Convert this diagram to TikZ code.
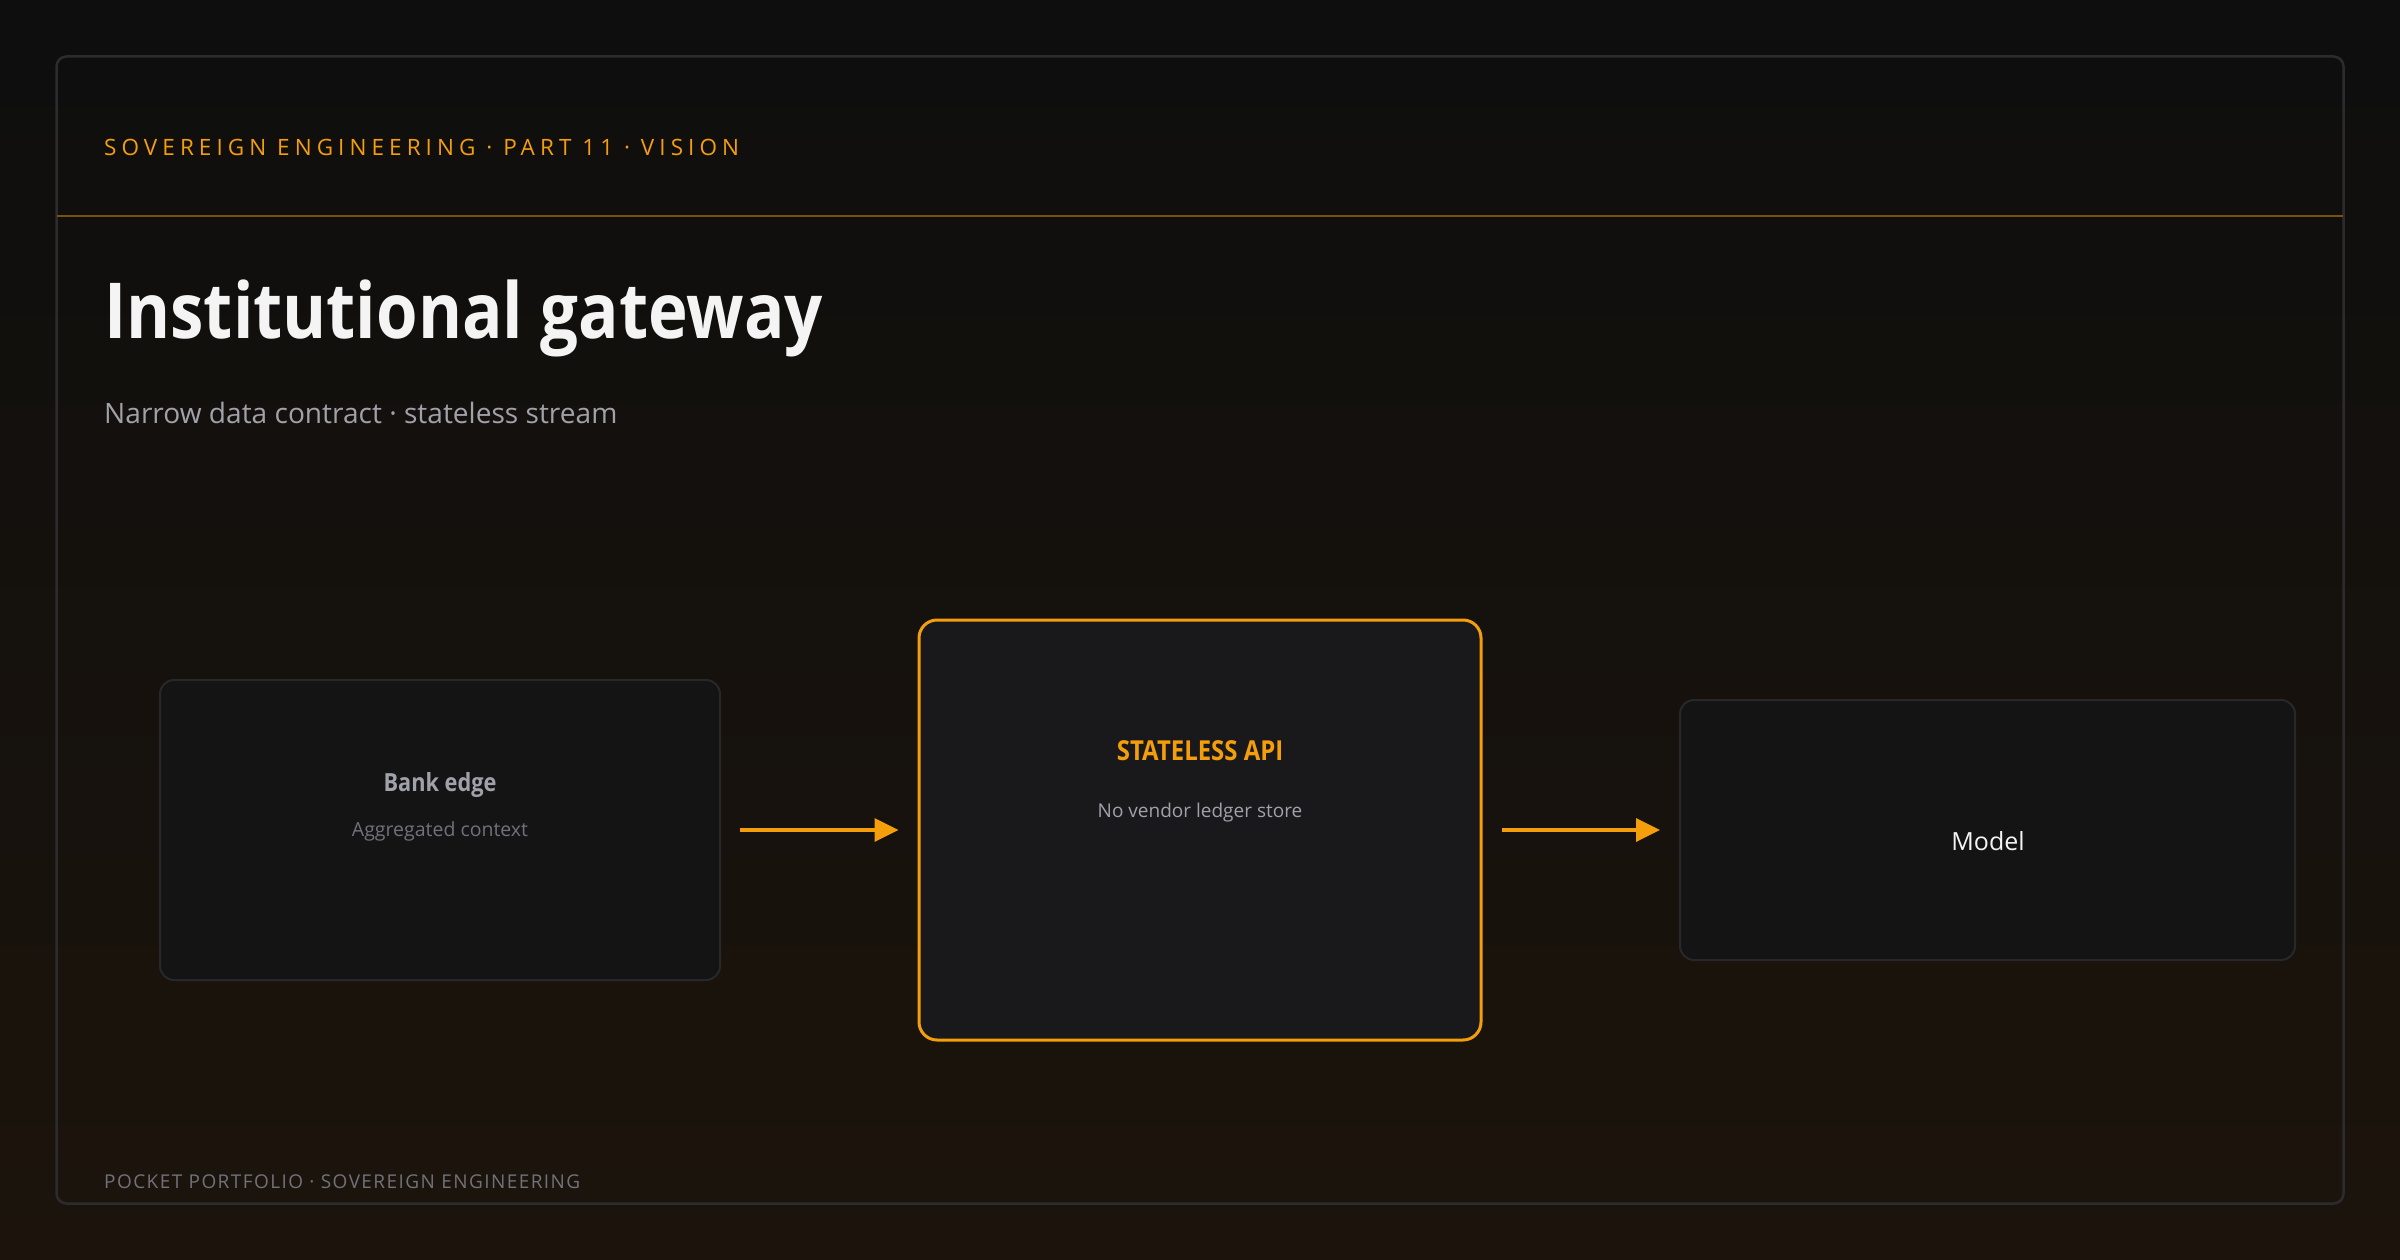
\documentclass[tikz,border=0pt]{standalone}
\usepackage{fontspec}
\setmainfont{Open Sans}[BoldFeatures={FakeStretch=0.87}]
\newfontfamily\trackfont{Open Sans}[LetterSpace=22.5]
\newfontfamily\footfont{Open Sans}[LetterSpace=7.5]
\usetikzlibrary{arrows.meta,positioning}

\definecolor{bgtop}{HTML}{0E0E0E}
\definecolor{bgbot}{HTML}{1C140C}
\definecolor{frameline}{HTML}{2C2C2E}
\definecolor{sepline}{HTML}{7A5210}
\definecolor{amber}{HTML}{F59E0B}
\definecolor{cardfill}{HTML}{141415}
\definecolor{hotfill}{HTML}{19191B}
\definecolor{cardline}{HTML}{28282A}
\definecolor{titlecol}{HTML}{F4F4F5}
\definecolor{subcol}{HTML}{A1A1AA}
\definecolor{dimcol}{HTML}{71717A}

\begin{document}
\begin{tikzpicture}[
  x=1pt,y=-1pt,
  >={Triangle[length=24pt,width=23pt]},
  every node/.style={inner sep=0pt},
  card/.style={rectangle,draw=cardline,line width=2pt,fill=cardfill,rounded corners=14pt},
  hot/.style={card,draw=amber,line width=3pt,fill=hotfill,rounded corners=18pt},
  flow/.style={->,draw=amber,line width=3.5pt,shorten <=19pt,shorten >=19pt},
]
  \useasboundingbox (0,0) rectangle (2400,1260);
  \shade[top color=bgtop,bottom color=bgbot] (0,0) rectangle (2400,1260);
  \draw[frameline,line width=2.5pt,rounded corners=10pt] (56.5,56.5) rectangle (2343.5,1203.5);
  \draw[sepline,line width=2pt] (57,216) -- (2343,216);

  \node[anchor=base west,text=amber,font=\trackfont\fontsize{22.5}{26}\selectfont] (kicker) at (104,156)
    {SOVEREIGN ENGINEERING · PART 11 · VISION};
  \node[anchor=base west,text=titlecol,font=\bfseries\fontsize{77.2}{80}\selectfont] (title) at (104,338)
    {Institutional gateway};
  \node[anchor=base west,text=subcol,font=\fontsize{28.1}{32}\selectfont] (subtitle) at (104,423)
    {Narrow data contract · stateless stream};

  \node[card,minimum width=560pt,minimum height=300pt] (bank) at (440,830) {};
  \node[hot,minimum width=562pt,minimum height=420pt] (api) at (1200,830) {};
  \node[card,minimum width=615pt,minimum height=260pt] (model) at (1987.5,830) {};

  \node[anchor=base,text=subcol,font=\bfseries\fontsize{25}{30}\selectfont] (bankname) at (440,791) {Bank edge};
  \node[anchor=base,text=dimcol,font=\fontsize{19.5}{24}\selectfont] (banknote) at (440,836) {Aggregated context};
  \node[anchor=base,text=amber,font=\bfseries\fontsize{27.5}{30}\selectfont] (apiname) at (1200,760) {STATELESS API};
  \node[anchor=base,text=subcol,font=\fontsize{19}{24}\selectfont] (apinote) at (1200,817) {No vendor ledger store};
  \node[anchor=base,text=titlecol,font=\fontsize{25}{30}\selectfont] (modelname) at (1988,850) {Model};

  \foreach \a/\b in {bank/api,api/model}
    \draw[flow] (\a) -- (\b);

  \node[anchor=base west,text=dimcol,font=\footfont\fontsize{19}{22}\selectfont] (footer) at (104,1188)
    {POCKET PORTFOLIO · SOVEREIGN ENGINEERING};
\end{tikzpicture}
\end{document}
